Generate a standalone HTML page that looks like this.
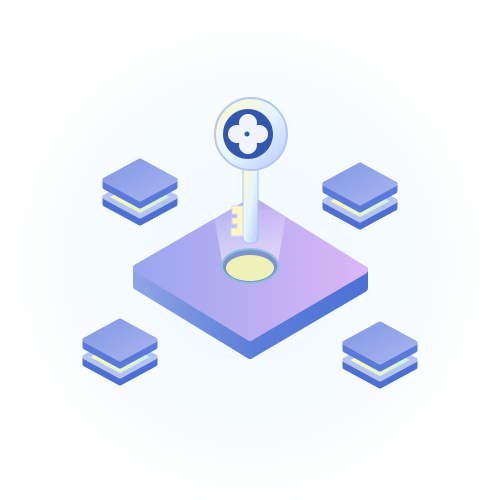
<!DOCTYPE html>
<html><head><style>html,body{margin:0;padding:0;background:#fff}svg{display:block}</style></head>
<body>
<svg width="500" height="500" viewBox="0 0 500 500" xmlns="http://www.w3.org/2000/svg">
<defs>
<radialGradient id="bg" cx="50%" cy="52%" r="50%"><stop offset="0" stop-color="#f0fafd"/><stop offset="0.7" stop-color="#f8fcfe"/><stop offset="1" stop-color="#fff"/></radialGradient>
<linearGradient id="top" x1="0" y1="0" x2="1" y2="0"><stop offset="0" stop-color="#9aa6ee"/><stop offset="1" stop-color="#dbb6f6"/></linearGradient>
<linearGradient id="side" x1="0" y1="0" x2="1" y2="0"><stop offset="0" stop-color="#8fa3e6"/><stop offset="0.5" stop-color="#5c7fd8"/><stop offset="1" stop-color="#4c72d6"/></linearGradient>
<linearGradient id="st" x1="0" y1="0" x2="1" y2="1"><stop offset="0" stop-color="#8297e4"/><stop offset="1" stop-color="#a8b6ef"/></linearGradient>
<linearGradient id="glow" x1="0" y1="0" x2="1" y2="0"><stop offset="0" stop-color="#fffbb0"/><stop offset="1" stop-color="#c9f2e8"/></linearGradient>
<linearGradient id="ring" x1="0" y1="0" x2="1" y2="1"><stop offset="0" stop-color="#fff8c8"/><stop offset="0.5" stop-color="#e6f6ff"/><stop offset="1" stop-color="#b7c9ff"/></linearGradient>
<linearGradient id="beam" x1="0" y1="0" x2="0" y2="1"><stop offset="0" stop-color="#fff" stop-opacity="0.1"/><stop offset="1" stop-color="#fff" stop-opacity="0.5"/></linearGradient>
<g id="stk">
 <path d="M-35,17 L0,36 L35,17 L35,24 L0,43 L-35,24Z" fill="#4e6fd2" stroke="#4e6fd2" stroke-width="5" stroke-linejoin="round"/>
 <path d="M-35,17 L0,-2 L35,17 L0,36Z" fill="url(#glow)" stroke="#b5c4f3" stroke-width="5" stroke-linejoin="round"/>
 <path d="M-35,0 L0,19 L35,0 L35,7 L0,26 L-35,7Z" fill="#5a79d8" stroke="#5a79d8" stroke-width="5" stroke-linejoin="round"/>
 <path d="M-35,0 L0,-19 L35,0 L0,19Z" fill="url(#st)" stroke="url(#st)" stroke-width="5" stroke-linejoin="round"/>
</g>
</defs>
<rect width="500" height="500" fill="url(#bg)"/>
<use href="#stk" x="140" y="180"/>
<use href="#stk" x="360" y="184"/>
<use href="#stk" x="120" y="340"/>
<use href="#stk" x="380" y="343"/>
<path d="M137,268 L250,337 L364,270 L364,288 L250,355 L137,286Z" fill="url(#side)" stroke="url(#side)" stroke-width="8" stroke-linejoin="round"/>
<path d="M137,268 L253,201 L364,270 L250,337Z" fill="url(#top)" stroke="url(#top)" stroke-width="8" stroke-linejoin="round"/>
<path d="M213,210 L287,210 L278,262 L222,262Z" fill="url(#beam)"/>
<ellipse cx="250" cy="266" rx="28" ry="17" fill="#7e93c9" stroke="#8fbfe0" stroke-width="2"/>
<ellipse cx="250" cy="268" rx="24" ry="13" fill="#eef2b8"/>
<rect x="243" y="165" width="15" height="78" rx="5" fill="url(#ring)" stroke="#a9c4f0" stroke-width="1"/>
<path d="M243,206 h-11 v8 h5 v4 h-5 v6 h5 v4 h-6 v8 h12Z" fill="#fff6c0" stroke="#c8dcff" stroke-width="1"/>
<circle cx="251" cy="134" r="36" fill="url(#ring)" stroke="#b4c8f3" stroke-width="2"/>
<circle cx="248" cy="134" r="25" fill="#3357ad"/>
<g fill="#f2f4fb">
 <circle cx="248" cy="123" r="9"/><circle cx="248" cy="145" r="9"/><circle cx="237" cy="134" r="9"/><circle cx="259" cy="134" r="9"/><circle cx="248" cy="134" r="9"/>
</g>
<circle cx="247" cy="134" r="2.5" fill="#3357ad"/>
</svg>
</body></html>
